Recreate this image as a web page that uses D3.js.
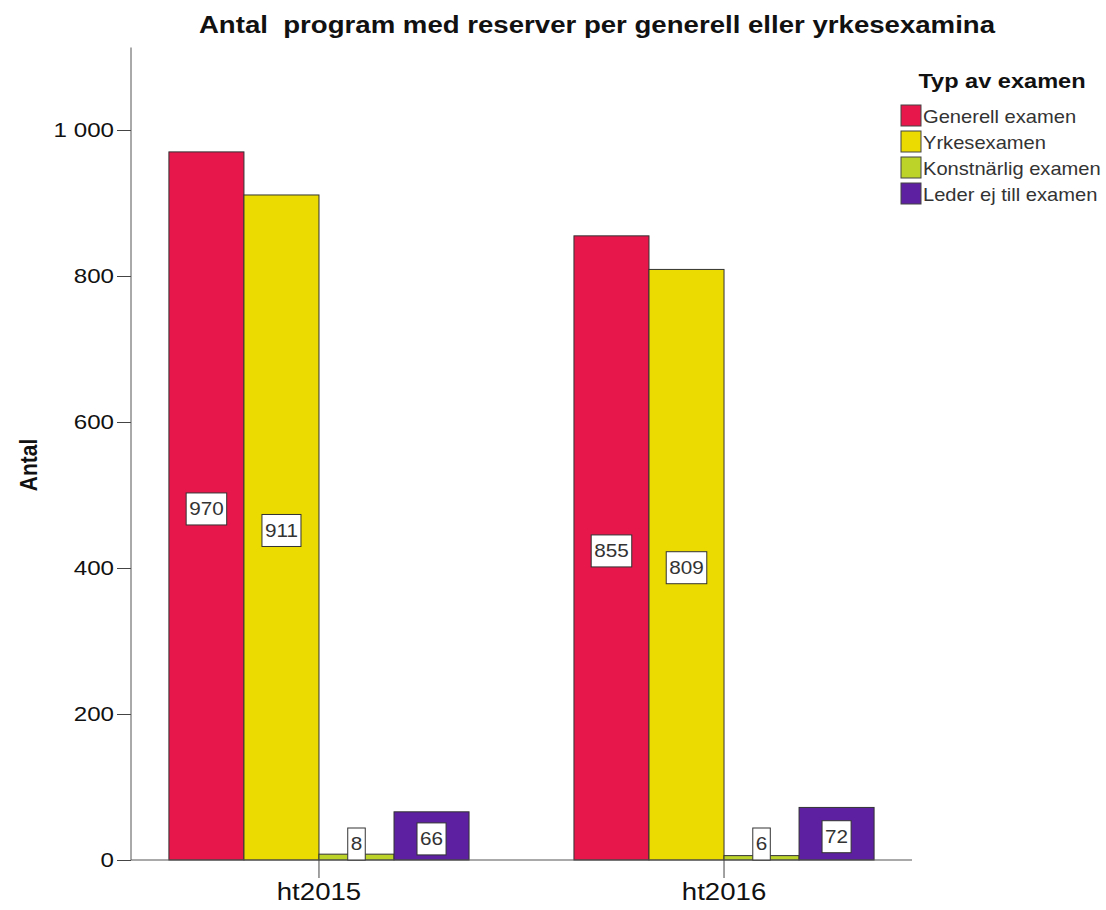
<!DOCTYPE html>
<html><head><meta charset="utf-8">
<script src="https://cdn.jsdelivr.net/npm/d3@7"></script>
<style>
html,body{margin:0;padding:0;background:#fff;}
text{font-family:Arial,"Liberation Sans",sans-serif;}
</style></head>
<body><svg id="c" width="1106" height="910"></svg>
<script>
const categories = ["ht2015", "ht2016"];
const seriesNames = ["Generell examen", "Yrkesexamen", "Konstnärlig examen", "Leder ej till examen"];
const generell = [970, 855];
const yrkes = [911, 809];
const konst = [8, 6];
const leder = [66, 72];
const yTicks = [0, 200, 400, 600, 800, 1000];
const colors = ["#e8174b", "#ebdb00", "#bcd32a", "#5c20a0"];

const seriesValues = [generell, yrkes, konst, leder];
const svg = d3.select("#c");
const SX = 1.15;
function stretch(sel) {
  sel.each(function () {
    const el = d3.select(this);
    const x = +el.attr("x") || 0;
    el.attr("transform", `translate(${x},0) scale(${SX},1) translate(${-x},0)`);
  });
  return sel;
}

const x0 = 131, x1 = 912, yBase = 860;
const y = d3.scaleLinear().domain([0, 1000]).range([yBase, 130]);
const yTop = y(1113);

const xCat = d3.scaleBand().domain(categories).range([x0, x1]).paddingInner(0.259).paddingOuter(0.0936);
const xSer = d3.scaleBand().domain(seriesNames).range([0, xCat.bandwidth()]);

// axes
const gy = svg.append("g").attr("transform", `translate(${x0},0)`)
  .call(d3.axisLeft(y).tickValues(yTicks).tickSize(14).tickPadding(3)
    .tickFormat(d => d3.format(",")(d).replace(",", " ")));
gy.select(".domain").remove();
gy.selectAll("line").attr("stroke", "#444");
stretch(gy.selectAll("text").attr("font-size", 21).attr("fill", "#111"));
svg.append("line").attr("x1", x0).attr("x2", x0).attr("y1", yTop).attr("y2", yBase).attr("stroke", "#555");

// bars
categories.forEach((c, ci) => {
  seriesNames.forEach((s, si) => {
    const v = seriesValues[si][ci];
    const bx = xCat(c) + xSer(s);
    svg.append("rect").attr("x", bx).attr("y", y(v)).attr("width", xSer.bandwidth())
      .attr("height", yBase - y(v)).attr("fill", colors[si]).attr("stroke", "#333").attr("stroke-width", 1);
  });
});

const gx = svg.append("g").attr("transform", `translate(0,${yBase})`)
  .call(d3.axisBottom(xCat).tickSize(18).tickPadding(5));
gx.select(".domain").remove();
gx.selectAll("line").attr("stroke", "#444");
stretch(gx.selectAll("text").attr("font-size", 24).attr("fill", "#111"));
svg.append("line").attr("x1", x0).attr("x2", x1).attr("y1", yBase).attr("y2", yBase).attr("stroke", "#555");

// value labels
categories.forEach((c, ci) => {
  seriesNames.forEach((s, si) => {
    const v = seriesValues[si][ci];
    const cx = xCat(c) + xSer(s) + xSer.bandwidth() / 2;
    const cy = Math.min((y(v) + yBase) / 2 + 3, yBase - 16);
    const t = svg.append("text").attr("x", cx).attr("y", cy).attr("text-anchor", "middle")
      .attr("dominant-baseline", "central").attr("font-size", 18).attr("fill", "#333").text(v);
    const w = t.node().getBBox().width * SX;
    stretch(t);
    svg.insert("rect", () => t.node()).attr("x", cx - w / 2 - 3).attr("y", cy - 16).attr("width", w + 6)
      .attr("height", 32).attr("fill", "#fff").attr("stroke", "#333").attr("stroke-width", 1);
  });
});

// title
stretch(svg.append("text").attr("x", 597).attr("y", 33).attr("text-anchor", "middle")
  .attr("font-size", 24).attr("font-weight", "bold").attr("fill", "#111")
  .attr("xml:space", "preserve").style("white-space", "pre")
  .text("Antal  program med reserver per generell eller yrkesexamina"));

// y label
svg.append("text").attr("transform", "translate(37,465) rotate(-90) scale(1,1.15)").attr("text-anchor", "middle")
  .attr("font-size", 21).attr("font-weight", "bold").attr("fill", "#111").text("Antal");

// legend
stretch(svg.append("text").attr("x", 1002).attr("y", 88).attr("text-anchor", "middle")
  .attr("font-size", 20.5).attr("font-weight", "bold").attr("fill", "#111").text("Typ av examen"));
seriesNames.forEach((s, i) => {
  const ly = 105 + i * 26;
  svg.append("rect").attr("x", 901).attr("y", ly).attr("width", 20).attr("height", 21)
    .attr("fill", colors[i]).attr("stroke", "#444").attr("stroke-width", 1);
  stretch(svg.append("text").attr("x", 923).attr("y", ly + 12).attr("dominant-baseline", "central")
    .attr("font-size", 17.5).attr("fill", "#333").text(s));
});
</script></body></html>
